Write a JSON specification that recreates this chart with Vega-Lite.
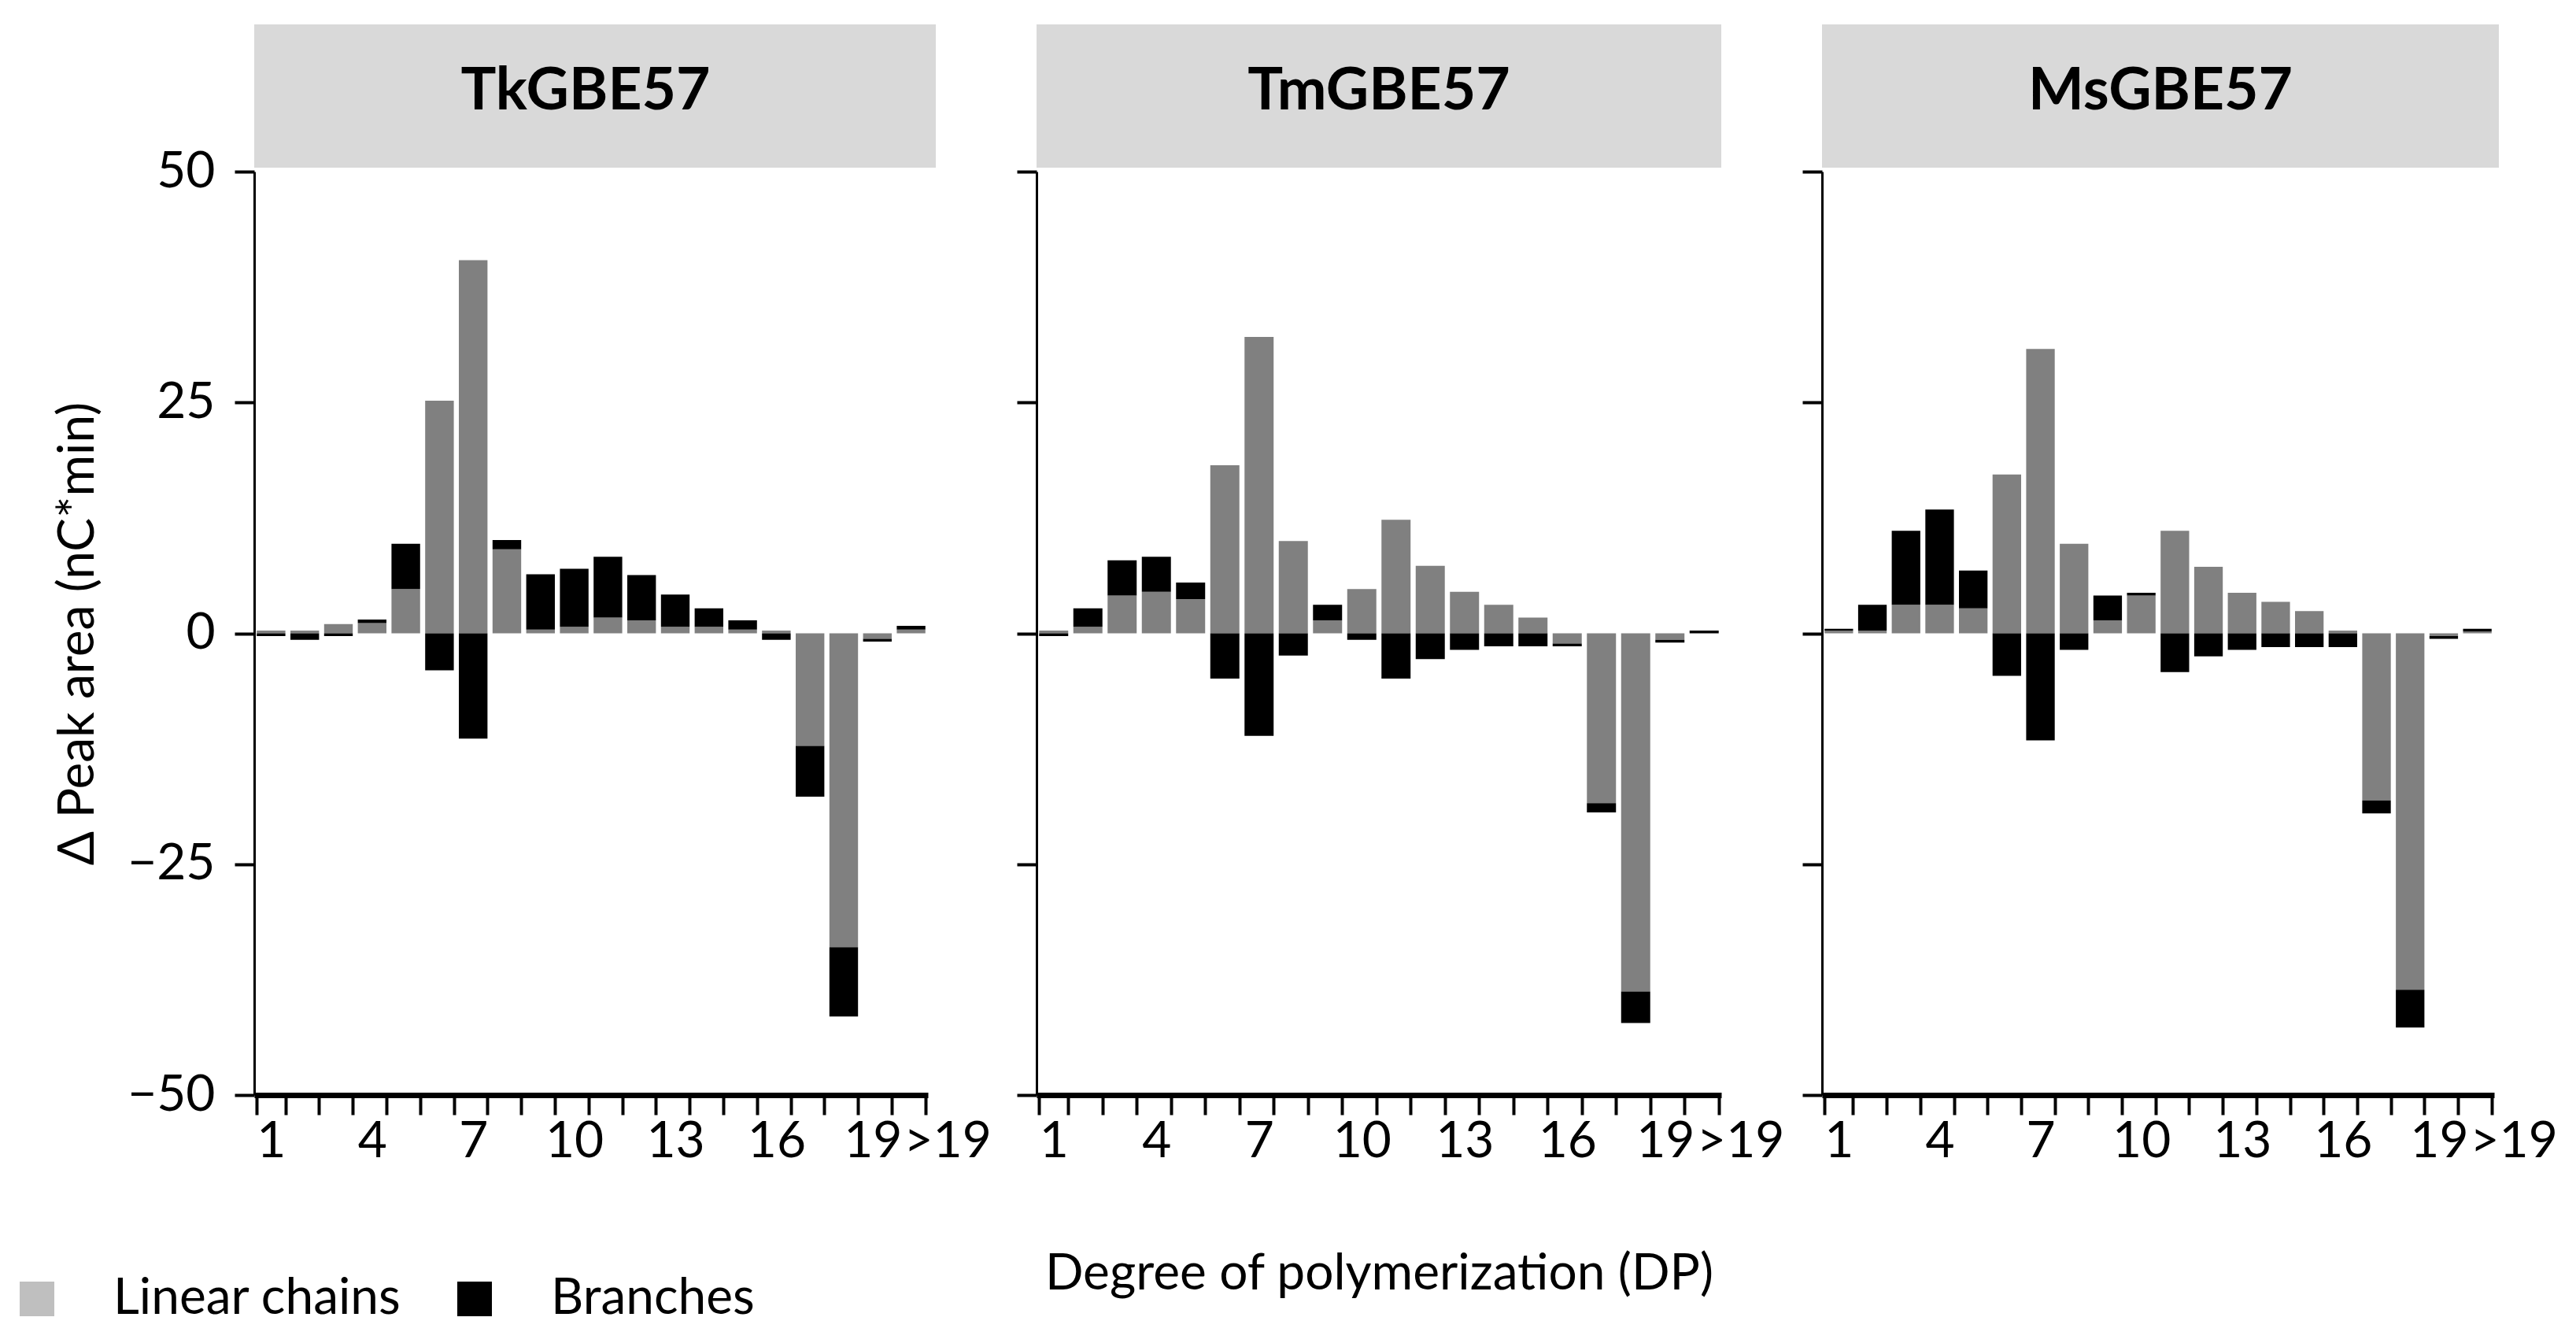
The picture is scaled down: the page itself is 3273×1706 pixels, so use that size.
{
  "$schema": "https://vega.github.io/schema/vega-lite/v6.json",
  "padding": {"left": 15, "top": 31, "right": 0, "bottom": 0},
  "background": "white",
  "datasets": {
    "bars": [
      {"enzyme":"TkGBE57","dp":"1","type":"Linear chains","value":0.3},{"enzyme":"TkGBE57","dp":"1","type":"Branches","value":-0.3},
      {"enzyme":"TkGBE57","dp":"2","type":"Linear chains","value":0.3},{"enzyme":"TkGBE57","dp":"2","type":"Branches","value":-0.7},
      {"enzyme":"TkGBE57","dp":"3","type":"Linear chains","value":1.0},{"enzyme":"TkGBE57","dp":"3","type":"Branches","value":-0.3},
      {"enzyme":"TkGBE57","dp":"4","type":"Linear chains","value":1.1},{"enzyme":"TkGBE57","dp":"4","type":"Branches","value":0.4},
      {"enzyme":"TkGBE57","dp":"5","type":"Linear chains","value":4.8},{"enzyme":"TkGBE57","dp":"5","type":"Branches","value":4.9},
      {"enzyme":"TkGBE57","dp":"6","type":"Linear chains","value":25.2},{"enzyme":"TkGBE57","dp":"6","type":"Branches","value":-4.0},
      {"enzyme":"TkGBE57","dp":"7","type":"Linear chains","value":40.4},{"enzyme":"TkGBE57","dp":"7","type":"Branches","value":-11.4},
      {"enzyme":"TkGBE57","dp":"8","type":"Linear chains","value":9.1},{"enzyme":"TkGBE57","dp":"8","type":"Branches","value":1.0},
      {"enzyme":"TkGBE57","dp":"9","type":"Linear chains","value":0.4},{"enzyme":"TkGBE57","dp":"9","type":"Branches","value":6.0},
      {"enzyme":"TkGBE57","dp":"10","type":"Linear chains","value":0.7},{"enzyme":"TkGBE57","dp":"10","type":"Branches","value":6.3},
      {"enzyme":"TkGBE57","dp":"11","type":"Linear chains","value":1.7},{"enzyme":"TkGBE57","dp":"11","type":"Branches","value":6.6},
      {"enzyme":"TkGBE57","dp":"12","type":"Linear chains","value":1.4},{"enzyme":"TkGBE57","dp":"12","type":"Branches","value":4.9},
      {"enzyme":"TkGBE57","dp":"13","type":"Linear chains","value":0.7},{"enzyme":"TkGBE57","dp":"13","type":"Branches","value":3.5},
      {"enzyme":"TkGBE57","dp":"14","type":"Linear chains","value":0.7},{"enzyme":"TkGBE57","dp":"14","type":"Branches","value":2.0},
      {"enzyme":"TkGBE57","dp":"15","type":"Linear chains","value":0.4},{"enzyme":"TkGBE57","dp":"15","type":"Branches","value":1.0},
      {"enzyme":"TkGBE57","dp":"16","type":"Linear chains","value":0.3},{"enzyme":"TkGBE57","dp":"16","type":"Branches","value":-0.7},
      {"enzyme":"TkGBE57","dp":"17","type":"Linear chains","value":-12.2},{"enzyme":"TkGBE57","dp":"17","type":"Branches","value":-5.5},
      {"enzyme":"TkGBE57","dp":"18","type":"Linear chains","value":-34.0},{"enzyme":"TkGBE57","dp":"18","type":"Branches","value":-7.5},
      {"enzyme":"TkGBE57","dp":"19","type":"Linear chains","value":-0.6},{"enzyme":"TkGBE57","dp":"19","type":"Branches","value":-0.3},
      {"enzyme":"TkGBE57","dp":">19","type":"Linear chains","value":0.4},{"enzyme":"TkGBE57","dp":">19","type":"Branches","value":0.4},

      {"enzyme":"TmGBE57","dp":"1","type":"Linear chains","value":0.3},{"enzyme":"TmGBE57","dp":"1","type":"Branches","value":-0.3},
      {"enzyme":"TmGBE57","dp":"2","type":"Linear chains","value":0.7},{"enzyme":"TmGBE57","dp":"2","type":"Branches","value":2.0},
      {"enzyme":"TmGBE57","dp":"3","type":"Linear chains","value":4.1},{"enzyme":"TmGBE57","dp":"3","type":"Branches","value":3.8},
      {"enzyme":"TmGBE57","dp":"4","type":"Linear chains","value":4.5},{"enzyme":"TmGBE57","dp":"4","type":"Branches","value":3.8},
      {"enzyme":"TmGBE57","dp":"5","type":"Linear chains","value":3.7},{"enzyme":"TmGBE57","dp":"5","type":"Branches","value":1.8},
      {"enzyme":"TmGBE57","dp":"6","type":"Linear chains","value":18.2},{"enzyme":"TmGBE57","dp":"6","type":"Branches","value":-4.9},
      {"enzyme":"TmGBE57","dp":"7","type":"Linear chains","value":32.1},{"enzyme":"TmGBE57","dp":"7","type":"Branches","value":-11.1},
      {"enzyme":"TmGBE57","dp":"8","type":"Linear chains","value":10.0},{"enzyme":"TmGBE57","dp":"8","type":"Branches","value":-2.4},
      {"enzyme":"TmGBE57","dp":"9","type":"Linear chains","value":1.4},{"enzyme":"TmGBE57","dp":"9","type":"Branches","value":1.7},
      {"enzyme":"TmGBE57","dp":"10","type":"Linear chains","value":4.8},{"enzyme":"TmGBE57","dp":"10","type":"Branches","value":-0.7},
      {"enzyme":"TmGBE57","dp":"11","type":"Linear chains","value":12.3},{"enzyme":"TmGBE57","dp":"11","type":"Branches","value":-4.9},
      {"enzyme":"TmGBE57","dp":"12","type":"Linear chains","value":7.3},{"enzyme":"TmGBE57","dp":"12","type":"Branches","value":-2.8},
      {"enzyme":"TmGBE57","dp":"13","type":"Linear chains","value":4.5},{"enzyme":"TmGBE57","dp":"13","type":"Branches","value":-1.8},
      {"enzyme":"TmGBE57","dp":"14","type":"Linear chains","value":3.1},{"enzyme":"TmGBE57","dp":"14","type":"Branches","value":-1.4},
      {"enzyme":"TmGBE57","dp":"15","type":"Linear chains","value":1.7},{"enzyme":"TmGBE57","dp":"15","type":"Branches","value":-1.4},
      {"enzyme":"TmGBE57","dp":"16","type":"Linear chains","value":-1.1},{"enzyme":"TmGBE57","dp":"16","type":"Branches","value":-0.3},
      {"enzyme":"TmGBE57","dp":"17","type":"Linear chains","value":-18.4},{"enzyme":"TmGBE57","dp":"17","type":"Branches","value":-1.0},
      {"enzyme":"TmGBE57","dp":"18","type":"Linear chains","value":-38.8},{"enzyme":"TmGBE57","dp":"18","type":"Branches","value":-3.4},
      {"enzyme":"TmGBE57","dp":"19","type":"Linear chains","value":-0.7},{"enzyme":"TmGBE57","dp":"19","type":"Branches","value":-0.3},
      {"enzyme":"TmGBE57","dp":">19","type":"Linear chains","value":0.0},{"enzyme":"TmGBE57","dp":">19","type":"Branches","value":0.3},

      {"enzyme":"MsGBE57","dp":"1","type":"Linear chains","value":0.3},{"enzyme":"MsGBE57","dp":"1","type":"Branches","value":0.2},
      {"enzyme":"MsGBE57","dp":"2","type":"Linear chains","value":0.3},{"enzyme":"MsGBE57","dp":"2","type":"Branches","value":2.8},
      {"enzyme":"MsGBE57","dp":"3","type":"Linear chains","value":3.1},{"enzyme":"MsGBE57","dp":"3","type":"Branches","value":8.0},
      {"enzyme":"MsGBE57","dp":"4","type":"Linear chains","value":3.1},{"enzyme":"MsGBE57","dp":"4","type":"Branches","value":10.3},
      {"enzyme":"MsGBE57","dp":"5","type":"Linear chains","value":2.7},{"enzyme":"MsGBE57","dp":"5","type":"Branches","value":4.1},
      {"enzyme":"MsGBE57","dp":"6","type":"Linear chains","value":17.2},{"enzyme":"MsGBE57","dp":"6","type":"Branches","value":-4.6},
      {"enzyme":"MsGBE57","dp":"7","type":"Linear chains","value":30.8},{"enzyme":"MsGBE57","dp":"7","type":"Branches","value":-11.6},
      {"enzyme":"MsGBE57","dp":"8","type":"Linear chains","value":9.7},{"enzyme":"MsGBE57","dp":"8","type":"Branches","value":-1.8},
      {"enzyme":"MsGBE57","dp":"9","type":"Linear chains","value":1.4},{"enzyme":"MsGBE57","dp":"9","type":"Branches","value":2.7},
      {"enzyme":"MsGBE57","dp":"10","type":"Linear chains","value":4.1},{"enzyme":"MsGBE57","dp":"10","type":"Branches","value":0.3},
      {"enzyme":"MsGBE57","dp":"11","type":"Linear chains","value":11.1},{"enzyme":"MsGBE57","dp":"11","type":"Branches","value":-4.2},
      {"enzyme":"MsGBE57","dp":"12","type":"Linear chains","value":7.2},{"enzyme":"MsGBE57","dp":"12","type":"Branches","value":-2.5},
      {"enzyme":"MsGBE57","dp":"13","type":"Linear chains","value":4.4},{"enzyme":"MsGBE57","dp":"13","type":"Branches","value":-1.8},
      {"enzyme":"MsGBE57","dp":"14","type":"Linear chains","value":3.4},{"enzyme":"MsGBE57","dp":"14","type":"Branches","value":-1.5},
      {"enzyme":"MsGBE57","dp":"15","type":"Linear chains","value":2.4},{"enzyme":"MsGBE57","dp":"15","type":"Branches","value":-1.5},
      {"enzyme":"MsGBE57","dp":"16","type":"Linear chains","value":0.3},{"enzyme":"MsGBE57","dp":"16","type":"Branches","value":-1.5},
      {"enzyme":"MsGBE57","dp":"17","type":"Linear chains","value":-18.1},{"enzyme":"MsGBE57","dp":"17","type":"Branches","value":-1.4},
      {"enzyme":"MsGBE57","dp":"18","type":"Linear chains","value":-38.6},{"enzyme":"MsGBE57","dp":"18","type":"Branches","value":-4.1},
      {"enzyme":"MsGBE57","dp":"19","type":"Linear chains","value":-0.3},{"enzyme":"MsGBE57","dp":"19","type":"Branches","value":-0.3},
      {"enzyme":"MsGBE57","dp":">19","type":"Linear chains","value":0.2},{"enzyme":"MsGBE57","dp":">19","type":"Branches","value":0.3}
    ]
  },
  "columns": 3,
  "concat": [
    {
      "width": 866, "height": 182,
      "view": {"fill": "#d9d9d9", "stroke": null},
      "data": {"values": [{"name": "TkGBE57"}]},
      "mark": {"type": "text", "fontSize": 75, "fontWeight": "bold", "font": "Lato", "baseline": "middle", "align": "center", "color": "black", "dx": -12, "dy": -6},
      "encoding": {"text": {"field": "name", "type": "nominal"}}
    },
    {
      "width": 870, "height": 182,
      "view": {"fill": "#d9d9d9", "stroke": null},
      "data": {"values": [{"name": "TmGBE57"}]},
      "mark": {"type": "text", "fontSize": 75, "fontWeight": "bold", "font": "Lato", "baseline": "middle", "align": "center", "color": "black", "dy": -6},
      "encoding": {"text": {"field": "name", "type": "nominal"}}
    },
    {
      "width": 860, "height": 182,
      "view": {"fill": "#d9d9d9", "stroke": null},
      "data": {"values": [{"name": "MsGBE57"}]},
      "mark": {"type": "text", "fontSize": 75, "fontWeight": "bold", "font": "Lato", "baseline": "middle", "align": "center", "color": "black", "dy": -6},
      "encoding": {"text": {"field": "name", "type": "nominal"}}
    },
    {
      "width": 856, "height": 1173,
      "data": {"name": "bars"},
      "transform": [{"filter": "datum.enzyme === 'TkGBE57'"}],
      "mark": {"type": "bar"},
      "encoding": {
        "x": {"field": "dp", "type": "nominal", "sort": ["1","2","3","4","5","6","7","8","9","10","11","12","13","14","15","16","17","18","19",">19"],
              "scale": {"paddingInner": 0.15, "paddingOuter": 0.075},
              "axis": {"title": null, "tickBand": "extent", "domainWidth": 7, "tickWidth": 4, "tickSize": 25, "labelFontSize": 64, "labelAngle": 0, "labelPadding": 2, "labelOverlap": false, "labelBound": false,
                       "labelExpr": "indexof(['1','4','7','10','13','16','19','>19'], datum.label) >= 0 ? datum.label : ''",
                       "labelOffset": {"condition": [{"test": "datum.label === '>19'", "value": 46}, {"test": "datum.label === '19'", "value": -6}], "value": 0}}},
        "y": {"field": "value", "type": "quantitative", "stack": "zero", "scale": {"domain": [-50, 50], "nice": false},
              "axis": {"title": "Δ Peak area (nC*min)", "values": [-50, -25, 0, 25, 50], "domainWidth": 3, "tickWidth": 4, "tickSize": 25, "labelFontSize": 64, "labelPadding": 25, "titleFontSize": 64, "titleFontWeight": "normal", "titlePadding": 30}},
        "color": {"field": "type", "type": "nominal",
                  "scale": {"domain": ["Linear chains", "Branches"], "range": ["#808080", "#000000"]},
                  "legend": {"title": null, "orient": "none", "legendX": -308, "legendY": 1400, "direction": "horizontal", "symbolType": "square", "symbolSize": 1936, "symbolStrokeWidth": 0, "labelFontSize": 64, "labelFont": "Lato", "labelColor": "black", "labelOffset": 65, "columnPadding": 60, "labelLimit": 2000, "padding": 0,
                             "encode": {"symbols": {"update": {"fillOpacity": {"signal": "datum.value === 'Linear chains' ? 0.5 : 1"}}}}}},
        "order": {"field": "type", "sort": "descending"}
      }
    },
    {
      "width": 870, "height": 1173,
      "data": {"name": "bars"},
      "transform": [{"filter": "datum.enzyme === 'TmGBE57'"}],
      "mark": {"type": "bar"},
      "encoding": {
        "x": {"field": "dp", "type": "nominal", "sort": ["1","2","3","4","5","6","7","8","9","10","11","12","13","14","15","16","17","18","19",">19"],
              "scale": {"paddingInner": 0.15, "paddingOuter": 0.075},
              "axis": {"title": "Degree of polymerization (DP)", "titleFontSize": 64, "titleFontWeight": "normal", "titlePadding": 104, "tickBand": "extent", "domainWidth": 7, "tickWidth": 4, "tickSize": 25, "labelFontSize": 64, "labelAngle": 0, "labelPadding": 2, "labelOverlap": false, "labelBound": false,
                       "labelExpr": "indexof(['1','4','7','10','13','16','19','>19'], datum.label) >= 0 ? datum.label : ''",
                       "labelOffset": {"condition": [{"test": "datum.label === '>19'", "value": 46}, {"test": "datum.label === '19'", "value": -6}], "value": 0}}},
        "y": {"field": "value", "type": "quantitative", "stack": "zero", "scale": {"domain": [-50, 50], "nice": false},
              "axis": {"title": null, "labels": false, "values": [-50, -25, 0, 25, 50], "domainWidth": 3, "tickWidth": 4, "tickSize": 25}},
        "color": {"field": "type", "type": "nominal",
                  "scale": {"domain": ["Linear chains", "Branches"], "range": ["#808080", "#000000"]}, "legend": null},
        "order": {"field": "type", "sort": "descending"}
      }
    },
    {
      "width": 854, "height": 1173,
      "data": {"name": "bars"},
      "transform": [{"filter": "datum.enzyme === 'MsGBE57'"}],
      "mark": {"type": "bar"},
      "encoding": {
        "x": {"field": "dp", "type": "nominal", "sort": ["1","2","3","4","5","6","7","8","9","10","11","12","13","14","15","16","17","18","19",">19"],
              "scale": {"paddingInner": 0.15, "paddingOuter": 0.075},
              "axis": {"title": null, "tickBand": "extent", "domainWidth": 7, "tickWidth": 4, "tickSize": 25, "labelFontSize": 64, "labelAngle": 0, "labelPadding": 2, "labelOverlap": false, "labelBound": false,
                       "labelExpr": "indexof(['1','4','7','10','13','16','19','>19'], datum.label) >= 0 ? datum.label : ''",
                       "labelOffset": {"condition": [{"test": "datum.label === '>19'", "value": 46}, {"test": "datum.label === '19'", "value": -6}], "value": 0}}},
        "y": {"field": "value", "type": "quantitative", "stack": "zero", "scale": {"domain": [-50, 50], "nice": false},
              "axis": {"title": null, "labels": false, "values": [-50, -25, 0, 25, 50], "domainWidth": 3, "tickWidth": 4, "tickSize": 25}},
        "color": {"field": "type", "type": "nominal",
                  "scale": {"domain": ["Linear chains", "Branches"], "range": ["#808080", "#000000"]}, "legend": null},
        "order": {"field": "type", "sort": "descending"}
      }
    }
  ],
  "spacing": {"row": 5, "column": 128},
  "bounds": "flush",
  "resolve": {"scale": {"color": "independent", "x": "independent", "y": "independent"}, "legend": {"color": "independent"}},
  "config": {
    "font": "Lato",
    "view": {"stroke": null},
    "axis": {"labelFont": "Lato", "titleFont": "Lato", "labelColor": "black", "titleColor": "black", "domainColor": "black", "tickColor": "black", "grid": false}
  }
}
